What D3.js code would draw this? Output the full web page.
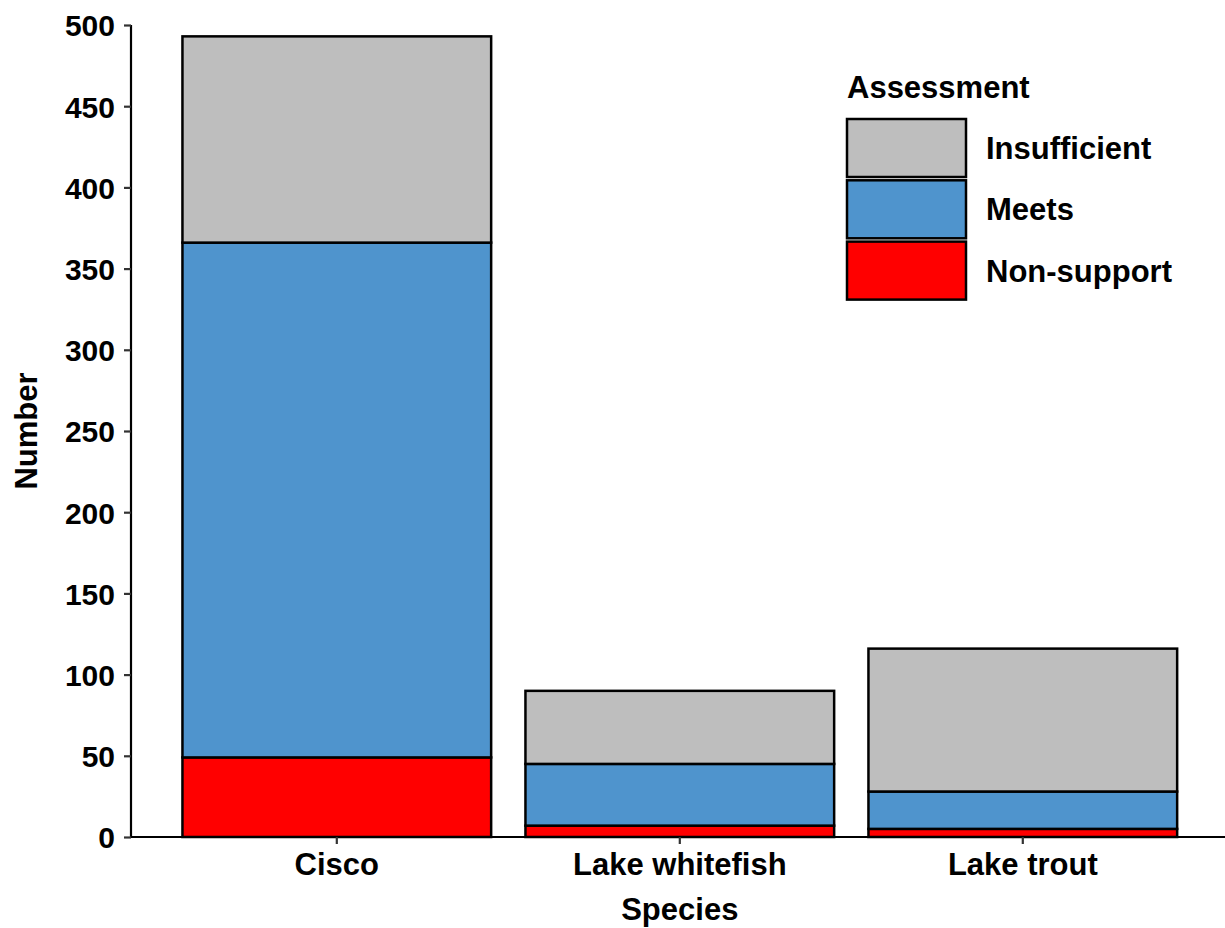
<!DOCTYPE html>
<html>
<head>
<meta charset="utf-8">
<script src="https://cdn.jsdelivr.net/npm/d3@7"></script>
<style>
  html, body { margin: 0; padding: 0; background: #fff; }
  svg text { font-family: "Liberation Sans", Arial, sans-serif; font-weight: bold; fill: #000; }
</style>
</head>
<body>
<svg id="chart" width="1225" height="928"></svg>
<script>
// ---- data ----
const species = ["Cisco", "Lake whitefish", "Lake trout"];
const assessments = ["Non-support", "Meets", "Insufficient"]; // stacking order bottom -> top
const legendOrder = ["Insufficient", "Meets", "Non-support"];
const nonSupport = [49, 7, 5];
const meets = [317, 38, 23];
const insufficient = [127, 45, 88];
const yTicks = [0, 50, 100, 150, 200, 250, 300, 350, 400, 450, 500];
const colors = { "Insufficient": "#BEBEBE", "Meets": "#4F94CD", "Non-support": "#FF0000" };

const rows = species.map((s, i) => ({
  species: s,
  "Non-support": nonSupport[i],
  "Meets": meets[i],
  "Insufficient": insufficient[i]
}));

// ---- layout ----
const svg = d3.select("#chart");
const pLeft = 131, pRight = 1228.6, pTop = 25, pBottom = 837;

const x = d3.scaleBand().domain(species).range([pLeft, pRight])
  .paddingInner(0.1).paddingOuter(0.15);
const y = d3.scaleLinear().domain([0, 500]).range([pBottom, pTop]);

const stack = d3.stack().keys(assessments)(rows);

svg.append("g").selectAll("g").data(stack).join("g")
  .attr("fill", d => colors[d.key])
  .selectAll("rect").data(d => d).join("rect")
  .attr("x", d => x(d.data.species))
  .attr("width", x.bandwidth())
  .attr("y", d => y(d[1]))
  .attr("height", d => y(d[0]) - y(d[1]))
  .attr("stroke", "#000")
  .attr("stroke-width", 2.5);

// y axis
const yAxis = svg.append("g").attr("transform", `translate(${pLeft},0)`)
  .call(d3.axisLeft(y).tickValues(yTicks).tickSize(7).tickPadding(9));
yAxis.select(".domain").attr("stroke", "#000").attr("stroke-width", 2.2)
  .attr("d", `M0,${pTop}V${pBottom}`);
yAxis.selectAll(".tick line").attr("stroke", "#333").attr("stroke-width", 2.2);
yAxis.selectAll(".tick text").attr("font-size", 30).attr("font-family", "Liberation Sans, Arial, sans-serif")
  .attr("font-weight", "bold").attr("fill", "#000").attr("dy", "0.36em");

// x axis
const xAxis = svg.append("g").attr("transform", `translate(0,${pBottom})`)
  .call(d3.axisBottom(x).tickSize(7).tickPadding(8));
xAxis.select(".domain").attr("stroke", "#000").attr("stroke-width", 2.2)
  .attr("d", `M${pLeft},0H1225`);
xAxis.selectAll(".tick line").attr("stroke", "#333").attr("stroke-width", 2.2);
xAxis.selectAll(".tick text").attr("font-size", 31).attr("font-family", "Liberation Sans, Arial, sans-serif")
  .attr("font-weight", "bold").attr("fill", "#000").attr("dy", "0").attr("y", 38);

// axis titles
svg.append("text").attr("x", (pLeft + pRight) / 2).attr("y", 920)
  .attr("text-anchor", "middle").attr("font-size", 31).text("Species");
svg.append("text").attr("transform", `translate(37,${(pTop + pBottom) / 2}) rotate(-90)`)
  .attr("text-anchor", "middle").attr("font-size", 31).text("Number");

// legend
const lg = svg.append("g").attr("transform", "translate(847,0)");
lg.append("text").attr("x", 0).attr("y", 98).attr("font-size", 31).text("Assessment");
const keyH = 58, keyW = 119, keyStep = 61.3, keyTop = 119;
legendOrder.forEach((k, i) => {
  const yy = keyTop + i * keyStep;
  lg.append("rect").attr("x", 0).attr("y", yy).attr("width", keyW).attr("height", keyH)
    .attr("fill", colors[k]).attr("stroke", "#000").attr("stroke-width", 2.5);
  lg.append("text").attr("x", 139).attr("y", yy + keyH / 2 + 11).attr("font-size", 31).text(k);
});
</script>
</body>
</html>
